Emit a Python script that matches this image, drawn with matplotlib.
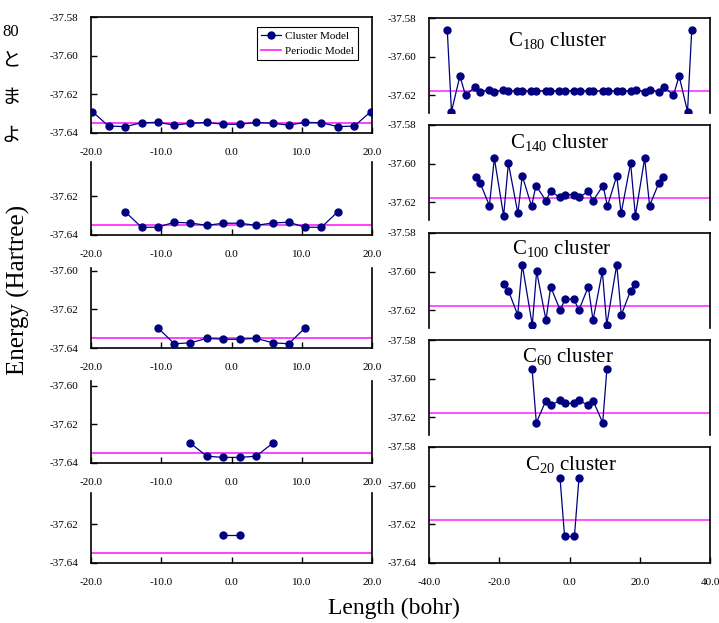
import matplotlib
matplotlib.use('Agg')
import matplotlib.pyplot as plt
from matplotlib.ticker import FormatStrFormatter, FixedLocator

# ---- data : left column (chains) ----
xL1 = [-19.8, -17.5, -15.15, -12.8, -10.5, -8.15, -5.85, -3.5, -1.15,
       1.15, 3.5, 5.85, 8.15, 10.5, 12.8, 15.15, 17.5, 19.8]
eL1 = [-37.6290, -37.6364, -37.6367, -37.6347, -37.6345, -37.6359, -37.6350, -37.6345, -37.6355,
       -37.6355, -37.6345, -37.6350, -37.6359, -37.6345, -37.6347, -37.6367, -37.6364, -37.6290]
xL2 = [-15.15, -12.8, -10.5, -8.15, -5.85, -3.5, -1.15,
       1.15, 3.5, 5.85, 8.15, 10.5, 12.8, 15.15]
eL2 = [-37.6279, -37.6360, -37.6360, -37.6334, -37.6338, -37.6350, -37.6339,
       -37.6339, -37.6350, -37.6338, -37.6334, -37.6360, -37.6360, -37.6279]
xL3 = [-10.5, -8.15, -5.85, -3.5, -1.15, 1.15, 3.5, 5.85, 8.15, 10.5]
eL3 = [-37.6295, -37.6378, -37.6373, -37.6350, -37.6355,
       -37.6355, -37.6350, -37.6373, -37.6378, -37.6295]
xL4 = [-5.85, -3.5, -1.15, 1.15, 3.5, 5.85]
eL4 = [-37.6298, -37.6365, -37.6371, -37.6371, -37.6365, -37.6298]
xL5 = [-1.15, 1.15]
eL5 = [-37.6255, -37.6255]
perL = -37.6350

# ---- data : right column (clusters) ----
xR1 = [-34.8, -33.6, -31.2, -29.6, -26.9, -25.5, -22.9, -21.4, -18.9, -17.6, -14.9, -13.5,
       -10.9, -9.6, -6.8, -5.5, -2.9, -1.4, 1.4, 2.9, 5.5, 6.8, 9.6, 10.9,
       13.5, 14.9, 17.6, 18.9, 21.4, 22.9, 25.5, 26.9, 29.6, 31.2, 33.6, 34.8]
eR1 = [-37.5863, -37.6284, -37.6100, -37.6200, -37.6156, -37.6184, -37.6170, -37.6181, -37.6174,
       -37.6177, -37.6177, -37.6177, -37.6177, -37.6177, -37.6177, -37.6177, -37.6177, -37.6177,
       -37.6177, -37.6177, -37.6177, -37.6177, -37.6177, -37.6177, -37.6177, -37.6177, -37.6177,
       -37.6174, -37.6181, -37.6170, -37.6184, -37.6156, -37.6200, -37.6100, -37.6284, -37.5863]
xR2 = [-26.7, -25.4, -22.8, -21.4, -18.75, -17.4, -14.7, -13.45, -10.8, -9.55, -6.7, -5.35, -2.7, -1.35,
       1.35, 2.7, 5.35, 6.7, 9.55, 10.8, 13.45, 14.7, 17.4, 18.75, 21.4, 22.8, 25.4, 26.7]
eR2 = [-37.6067, -37.6102, -37.6217, -37.5972, -37.6270, -37.5997, -37.6257,
       -37.6063, -37.6220, -37.6113, -37.6192, -37.6143, -37.6175, -37.6160,
       -37.6160, -37.6175, -37.6143, -37.6192, -37.6113, -37.6220, -37.6063,
       -37.6257, -37.5997, -37.6270, -37.5972, -37.6217, -37.6102, -37.6067]
xR3 = [-18.75, -17.4, -14.75, -13.45, -10.6, -9.35, -6.7, -5.35, -2.65, -1.3,
       1.3, 2.65, 5.35, 6.7, 9.35, 10.6, 13.45, 14.75, 17.4, 18.75]
eR3 = [-37.6063, -37.6098, -37.6224, -37.5964, -37.6276, -37.5998, -37.6251, -37.6078, -37.6200, -37.6142,
       -37.6142, -37.6200, -37.6078, -37.6251, -37.5998, -37.6276, -37.5964, -37.6224, -37.6098, -37.6063]
xR4 = [-10.65, -9.45, -6.7, -5.3, -2.7, -1.35, 1.35, 2.7, 5.3, 6.7, 9.45, 10.65]
eR4 = [-37.5950, -37.6228, -37.6113, -37.6138, -37.6112, -37.6128,
       -37.6128, -37.6112, -37.6138, -37.6113, -37.6228, -37.5950]
xR5 = [-2.7, -1.4, 1.4, 2.7]
eR5 = [-37.5960, -37.6263, -37.6263, -37.5960]
perR = -37.6177

names = ['180', '140', '100', '60', '20']

# ---- figure ----
W, H = 719, 623
plt.rcParams['font.family'] = ['Liberation Serif', 'DejaVu Serif']
plt.rcParams['mathtext.fontset'] = 'custom'
plt.rcParams['mathtext.rm'] = 'Liberation Serif'
fig = plt.figure(figsize=(W / 100, H / 100), dpi=100, facecolor='w')

pxu = 1933.0  # pixels per Hartree
cnav = '#000080'
cmag = '#ff33ff'


def mkax(x0, x1, top, bot):
    return fig.add_axes([x0 / W, 1 - bot / H, (x1 - x0) / W, (bot - top) / H])


def style(ax, xl, yl, xt, xlab, top_sp, bot_sp):
    ax.set_xlim(*xl)
    ax.set_ylim(*yl)
    ax.xaxis.set_major_locator(FixedLocator(xt))
    ax.yaxis.set_major_locator(FixedLocator([-37.64, -37.62, -37.60, -37.58]))
    ax.xaxis.set_major_formatter(FormatStrFormatter('%.1f'))
    ax.yaxis.set_major_formatter(FormatStrFormatter('%.2f'))
    ax.tick_params(axis='both', direction='in', length=4, width=1, labelsize=8)
    ax.tick_params(axis='y', pad=9)
    ax.tick_params(axis='x', pad=11, labelbottom=xlab, bottom=bot_sp)
    for s in ax.spines.values():
        s.set_linewidth(1.2)
    ax.spines['top'].set_visible(top_sp)
    ax.spines['bottom'].set_visible(bot_sp)


# left column : (top px, bottom px)
Lpos = [(17, 133), (162, 235), (268, 348), (381, 463), (493, 563)]
Ldat = [(xL1, eL1), (xL2, eL2), (xL3, eL3), (xL4, eL4), (xL5, eL5)]
for i, ((t, b), (xx, ee)) in enumerate(zip(Lpos, Ldat)):
    ax = mkax(91, 372, t, b)
    ylo = -37.64
    yhi = ylo + (b - t) / pxu
    style(ax, (-20, 20), (ylo, yhi), [-20, -10, 0, 10, 20], True, i == 0, True)
    ax.axhline(perL, color=cmag, lw=1.3, label='Periodic Model', zorder=2)
    ax.plot(xx, ee, '-o', color=cnav, lw=0.9, ms=5, label='Cluster Model', zorder=3)
    if i == 0:
        hh, ll = ax.get_legend_handles_labels()
        lg = ax.legend(hh[::-1], ll[::-1], loc='upper right', bbox_to_anchor=(0.95, 0.915),
                       fontsize=8, frameon=True, fancybox=False, edgecolor='k', framealpha=1,
                       borderpad=0.4, labelspacing=0.45, handlelength=1.8, handletextpad=0.3,
                       borderaxespad=0)
        lg.get_frame().set_linewidth(0.8)

# right column
Rpos = [(18, 113), (125, 220), (233, 328), (340, 435), (447, 563)]
Rdat = [(xR1, eR1), (xR2, eR2), (xR3, eR3), (xR4, eR4), (xR5, eR5)]
Tpos = [(558, 41), (560, 143), (562, 249), (568, 357), (571, 465)]
for i, ((t, b), (xx, ee)) in enumerate(zip(Rpos, Rdat)):
    ax = mkax(429, 710, t, b)
    yhi = -37.58
    ylo = yhi - (b - t) / pxu
    last = (i == 4)
    style(ax, (-40, 40), (ylo, yhi), [-40, -20, 0, 20, 40], last, True, last)
    ax.axhline(perR, color=cmag, lw=1.2, zorder=2)
    ax.plot(xx, ee, '-o', color=cnav, lw=0.9, ms=5, zorder=3)
    tx, ty = Tpos[i]
    fig.text(tx / W, 1 - ty / H, r'C$_{\mathregular{' + names[i] + '}}$ cluster',
             fontsize=15, ha='center', va='center')

# axis titles
fig.text(18 / W, 1 - 290 / H, 'Energy (Hartree)', rotation=90, fontsize=18, ha='center', va='center')
fig.text(394 / W, 1 - 608 / H, 'Length (bohr)', fontsize=17, ha='center', va='center')

# left-edge remnants
fig.text(11 / W, 1 - 32 / H, '80', fontsize=12, ha='center', va='center')
for s, yy in zip(['と', 'ま', 'よ'], [60, 98, 136]):
    fig.text(11 / W, 1 - yy / H, s, fontsize=14, ha='center', va='center',
             family=['Noto Sans CJK JP', 'DejaVu Sans'])

fig.savefig('out.png', dpi=100)
